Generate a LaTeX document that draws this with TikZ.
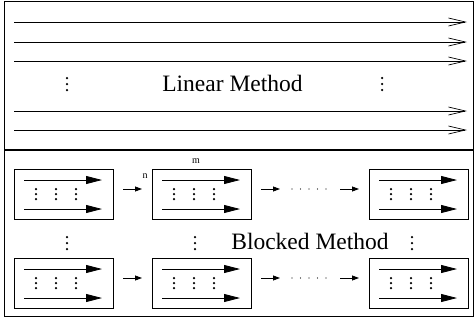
\documentclass[tikz,border=0pt]{standalone}
\usepackage{fontspec}
\setmainfont{Liberation Serif}
\usetikzlibrary{arrows.meta}
\begin{document}
\begin{tikzpicture}[x=1pt,y=-1pt,
  frame/.style={draw, line width=0.9pt},
  longarrow/.style={line width=0.7pt, -{Straight Barb[length=17pt,width=8pt,line width=0.7pt]}},
  blk/.style={draw, line width=0.9pt, minimum width=99pt, minimum height=50pt, inner sep=0pt, outer sep=0pt},
  inarrow/.style={line width=0.8pt, -{Triangle[length=16pt,width=8pt]}},
  conn/.style={line width=0.8pt, -{Triangle[length=7pt,width=5pt]}, shorten <=10pt, shorten >=10pt},
  big/.style={font=\fontsize{23.5}{28}\selectfont, inner sep=0pt},
  small/.style={font=\fontsize{10}{12}\selectfont, inner sep=0pt},
  vd/.pic={\fill (0,-5) circle (1.25pt); \fill (0,0) circle (1.25pt); \fill (0,5) circle (1.25pt);},
  vdbig/.pic={\fill (0,-6) circle (1.25pt); \fill (0,0) circle (1.25pt); \fill (0,6) circle (1.25pt);},
  blockcontent/.pic={
    \draw[inarrow] (10,11) -- (88,11);
    \draw[inarrow] (10,40) -- (88,40);
    \pic at (22,25) {vd};
    \pic at (42,25) {vd};
    \pic at (62,25) {vd};
  }
]
\useasboundingbox (0,0) rectangle (474,322);
% frame
\draw[frame] (4,1) rectangle (473,316);
\draw[line width=1.8pt] (4,150) -- (473,150);
% linear method
\foreach \y in {22,42,61,111,130} \draw[longarrow] (14,\y) -- (467,\y);
\pic at (67,84) {vdbig};
\pic at (382,84) {vdbig};
\node[big, anchor=base] (lin) at (232.5,91.5) {Linear Method};
% blocked method
\node[blk] (a1) at (63.5,194) {};
\node[blk] (a2) at (201.5,194) {};
\node[blk] (a3) at (418.5,194) {};
\node[blk] (c1) at (63.5,283) {};
\node[blk] (c2) at (201.5,283) {};
\node[blk] (c3) at (418.5,283) {};
\foreach \b in {a1,a2,a3,c1,c2,c3} \pic at (\b.north west) {blockcontent};
\node[small] (m) at (196,161) {m};
\node[small] (n) at (145,176) {n};
% connectors top row
\coordinate (ad1) at (280,189);
\coordinate (ad2) at (340,189);
\draw[conn] ([yshift=5pt]a1.east) -- ([yshift=5pt]a2.west);
\draw[conn, shorten >=0pt] ([yshift=5pt]a2.east) -- (ad1);
\foreach \x in {292,300.5,309,317.5,326} \fill (\x,189) circle (0.6pt);
\draw[conn, shorten <=0pt] (ad2) -- ([yshift=5pt]a3.west);
% connectors bottom row
\coordinate (cd1) at (280,278);
\coordinate (cd2) at (340,278);
\draw[conn] ([yshift=5pt]c1.east) -- ([yshift=5pt]c2.west);
\draw[conn, shorten >=0pt] ([yshift=5pt]c2.east) -- (cd1);
\foreach \x in {292,300.5,309,317.5,326} \fill (\x,278) circle (0.6pt);
\draw[conn, shorten <=0pt] (cd2) -- ([yshift=5pt]c3.west);
% middle row
\pic at (67,243) {vdbig};
\pic at (195,243) {vdbig};
\pic at (412,243) {vdbig};
\node[big, anchor=base] (blm) at (310,249) {Blocked Method};
\end{tikzpicture}
\end{document}
